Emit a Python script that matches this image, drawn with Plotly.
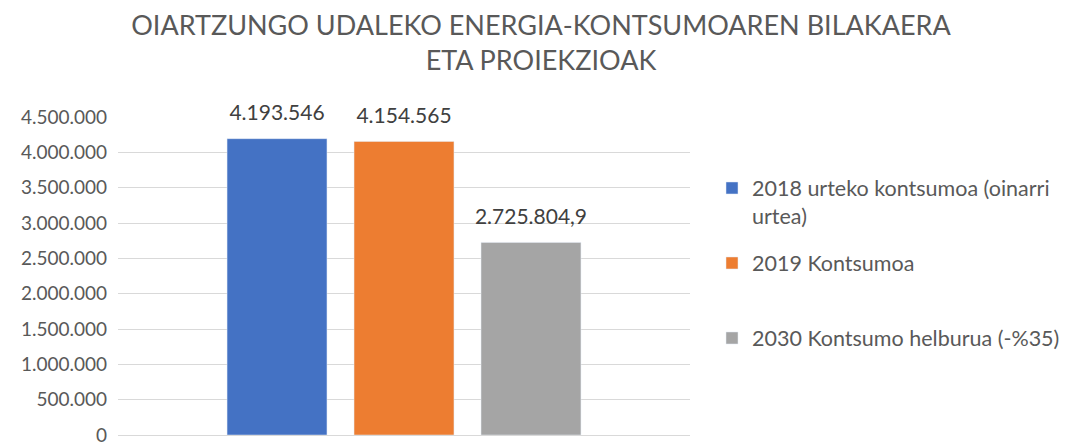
import plotly.graph_objects as go

title_lines = ["OIARTZUNGO UDALEKO ENERGIA-KONTSUMOAREN BILAKAERA", "ETA PROIEKZIOAK"]
category = ["Oiartzun"]
series_names = ["2018 urteko kontsumoa (oinarri<br>urtea)", "2019 Kontsumoa", "2030 Kontsumo helburua (-%35)"]
series_values = [4193546, 4154565, 2725804.9]
label_formats = ["%{y:,.0f}", "%{y:,.0f}", "%{y:,.1f}"]
colors = ["#4472C4", "#ED7D31", "#A5A5A5"]
y_ticks = [0, 500000, 1000000, 1500000, 2000000, 2500000, 3000000, 3500000, 4000000, 4500000]

FONT = "Lato"
legend_ids = ["legend", "legend2", "legend3"]
legend_y = [202, 263, 338]

fig = go.Figure()
for i, (name, val, col) in enumerate(zip(series_names, series_values, colors)):
    fig.add_trace(go.Bar(
        x=category, y=[val], name=name, marker_color=col,
        offsetgroup=str(i), legend=legend_ids[i],
    ))
for i, (val, fmt) in enumerate(zip(series_values, label_formats)):
    fig.add_trace(go.Scatter(
        x=category, y=[val], mode="markers+text", offsetgroup=str(i),
        marker=dict(size=20, opacity=0), texttemplate=fmt,
        textposition="top center", showlegend=False, hoverinfo="skip",
        textfont=dict(family=FONT, size=21, color="#404040"), cliponaxis=False,
    ))

layouts = {}
for i, lid in enumerate(legend_ids):
    layouts[lid] = dict(
        xref="container", yref="container", x=712 / 1069, y=1 - legend_y[i] / 443,
        xanchor="left", yanchor="middle", valign="top",
        font=dict(family=FONT, size=21.5, color="#595959"),
        bgcolor="rgba(0,0,0,0)", itemclick=False,
    )

fig.update_layout(
    width=1069, height=443,
    margin=dict(l=118, r=379, t=117, b=8, autoexpand=False),
    paper_bgcolor="white", plot_bgcolor="white",
    separators=",.",
    barmode="group", bargap=0.334, bargroupgap=0.213,
    scattermode="group", scattergap=0.334,
    title=dict(text="<br>".join(title_lines), x=541 / 1069, xanchor="center",
               xref="container", yref="container", y=1 - 35 / 443, yanchor="middle",
               font=dict(family=FONT, size=27, color="#595959")),
    xaxis=dict(type="category", range=[-0.5, 0.5], showticklabels=False,
               showgrid=False, zeroline=False, showline=False, fixedrange=True,
               automargin=False),
    yaxis=dict(range=[0, 4500000], tickvals=y_ticks, tickformat=",.0f",
               showgrid=True, gridcolor="#D9D9D9", gridwidth=1,
               zeroline=True, zerolinecolor="#D9D9D9", zerolinewidth=1,
               showline=False, ticks="", ticklabelstandoff=10,
               ticklabeloverflow="allow", automargin=False,
               tickfont=dict(family=FONT, size=19, color="#595959")),
    **layouts,
)

fig.write_html("out.html")
